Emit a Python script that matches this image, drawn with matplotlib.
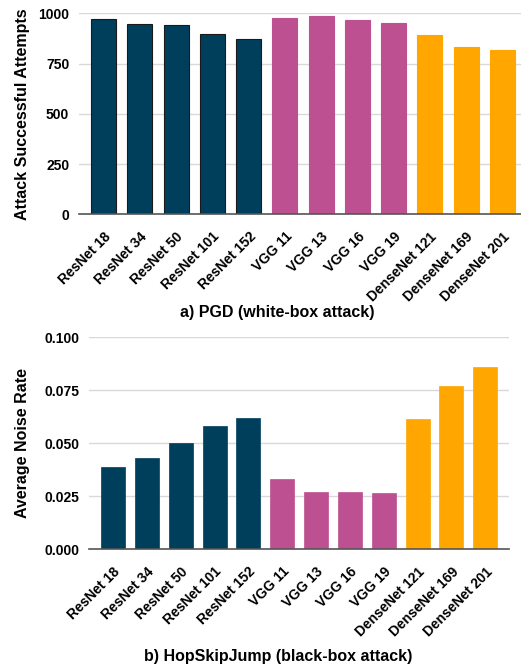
import numpy as np
import matplotlib
matplotlib.use("Agg")
import matplotlib.pyplot as plt

plt.rcParams['font.family'] = ['Liberation Sans', 'DejaVu Sans']
plt.rcParams['font.weight'] = 'bold'

models = ["ResNet 18", "ResNet 34", "ResNet 50", "ResNet 101", "ResNet 152",
          "VGG 11", "VGG 13", "VGG 16", "VGG 19",
          "DenseNet 121", "DenseNet 169", "DenseNet 201"]
families = ["resnet"] * 5 + ["vgg"] * 4 + ["densenet"] * 3

# PGD: number of successful attacks (out of 1000)
pgd_success = [973, 945, 940, 898, 871, 975, 985, 967, 953, 890, 832, 817]
# HopSkipJump: average noise rate
hsj_noise = [0.0387, 0.0429, 0.0501, 0.0580, 0.0618,
             0.0333, 0.0269, 0.0269, 0.0264,
             0.0613, 0.0770, 0.0861]

palette = {"resnet": "#003f5c", "vgg": "#bc5090", "densenet": "#ffa600"}
colors = [palette[f] for f in families]

W, H = 521, 669
fig = plt.figure(figsize=(W / 100, H / 100), dpi=100)


def px_axes(left, top, right, bottom):
    return fig.add_axes([left / W, 1 - bottom / H, (right - left) / W, (bottom - top) / H])


def style(ax, ylabel, yticks, fmt):
    x = np.arange(len(models))
    ax.set_xticks(x)
    ax.set_xticklabels(models, rotation=45, ha="right", rotation_mode="anchor",
                       fontsize=10, fontweight="bold")
    ax.set_yticks(yticks)
    ax.set_yticklabels([fmt(v) for v in yticks], fontsize=10, fontweight="bold")
    ax.set_ylim(yticks[0], yticks[-1])
    ax.grid(axis="y", color="#d9d9d9", linewidth=1)
    ax.set_axisbelow(True)
    for s in ["top", "right", "left"]:
        ax.spines[s].set_visible(False)
    ax.spines["bottom"].set_color("#555555")
    ax.spines["bottom"].set_linewidth(1.2)
    ax.tick_params(axis="y", length=0, pad=7)
    ax.tick_params(axis="x", length=0, pad=11)
    ax.set_ylabel(ylabel, fontsize=11.5, fontweight="bold")


# a) PGD
ax1 = px_axes(79, 13.3, 527, 214.3)
x = np.arange(len(models))
edges = ["#1a1a1a" if f == "resnet" else c for f, c in zip(families, colors)]
ax1.bar(x, pgd_success, width=0.69, color=colors, edgecolor=edges, linewidth=0.8)
ax1.set_xlim(-0.68, 11.68)
style(ax1, "Attack Successful Attempts", [0, 250, 500, 750, 1000], lambda v: f"{v:d}")
ax1.yaxis.set_label_coords(-0.109, 0.5)
fig.text(277 / W, 1 - 313 / H, "a) PGD (white-box attack)", ha="center", va="center",
         fontsize=11.5, fontweight="bold")

# b) HopSkipJump
ax2 = px_axes(89.3, 337.3, 509, 549.3)
ax2.bar(x, hsj_noise, width=0.71, color=colors, edgecolor=colors, linewidth=0.5)
ax2.set_xlim(-0.7, 11.7)
style(ax2, "Average Noise Rate", [0, 0.025, 0.05, 0.075, 0.1], lambda v: f"{v:.3f}")
ax2.yaxis.set_label_coords(-0.141, 0.5)
fig.text(278 / W, 1 - 657 / H, "b) HopSkipJump (black-box attack)", ha="center", va="center",
         fontsize=11.5, fontweight="bold")

fig.savefig("out.png", dpi=100)
